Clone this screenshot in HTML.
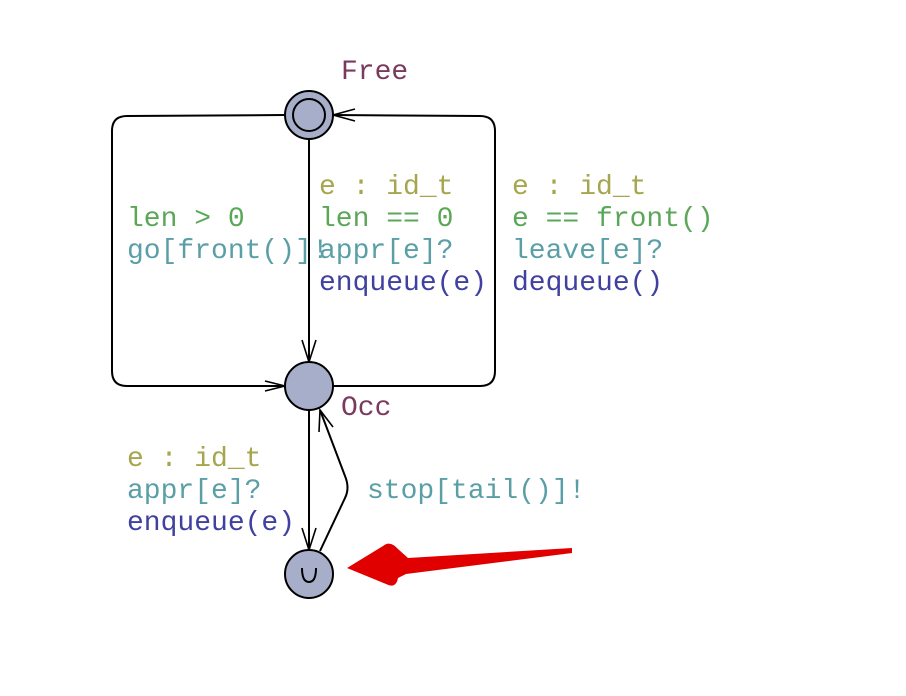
<!DOCTYPE html>
<html><head><style>body{margin:0;background:#fff}</style></head><body>
<svg width="906" height="696" xmlns="http://www.w3.org/2000/svg" style="display:block">
<g fill="none" stroke="#000" stroke-width="2">
<path d="M285,115 L127,116 Q112,116 112,131 L112,371 Q112,386 127,386 L285,386"/>
<path d="M333,386 L480,386 Q495,386 495,371 L495,131 Q495,116 480,116 L333,115"/>
<path d="M309,139 L309,362"/>
<path d="M309,410 L309,550"/>
<path d="M320,551 L345,498 Q350,488 345,476 L320,410"/>
<path d="M265,381 L285,386 L265,391" stroke-width="1.6"/>
<path d="M355,109 L333,115 L355,121" stroke-width="1.6"/>
<path d="M302,340 L309,362 L316,340" stroke-width="1.6"/>
<path d="M302,528 L309,550 L316,528" stroke-width="1.6"/>
<path d="M319,432 L320,410 L333,427" stroke-width="1.6"/>
</g>
<g fill="#a7aec9" stroke="#000" stroke-width="2">
<circle cx="309" cy="115" r="24"/>
<circle cx="309" cy="115" r="16"/>
<circle cx="309" cy="386" r="24"/>
<circle cx="309" cy="574" r="24"/>
</g>
<path d="M302,568 Q302,582 309,582 Q316,582 316,568" fill="none" stroke="#000" stroke-width="2"/>
<path d="M572,548 L408,558 L398,549 Q390,540 383,546 L347,568 L386,584 Q396,589 398,578 L406,574 L572,553 Z" fill="#e00000"/>
<g font-family="'Liberation Mono',monospace" font-size="28">
<text x="341" y="79" fill="#7a3a5e">Free</text>
<text x="341" y="415" fill="#7a3a5e">Occ</text>
<text x="127" y="226" fill="#5aa857">len &gt; 0</text>
<text x="127" y="258" fill="#5a9fa6">go[front()]!</text>
<text x="319" y="194" fill="#a6a64f">e : id_t</text>
<text x="319" y="226" fill="#5aa857">len == 0</text>
<text x="319" y="258" fill="#5a9fa6">appr[e]?</text>
<text x="319" y="290" fill="#4040a0">enqueue(e)</text>
<text x="512" y="194" fill="#a6a64f">e : id_t</text>
<text x="512" y="226" fill="#5aa857">e == front()</text>
<text x="512" y="258" fill="#5a9fa6">leave[e]?</text>
<text x="512" y="290" fill="#4040a0">dequeue()</text>
<text x="127" y="466" fill="#a6a64f">e : id_t</text>
<text x="127" y="498" fill="#5a9fa6">appr[e]?</text>
<text x="127" y="530" fill="#4040a0">enqueue(e)</text>
<text x="367" y="498" fill="#5a9fa6">stop[tail()]!</text>
</g>
</svg>
</body></html>
